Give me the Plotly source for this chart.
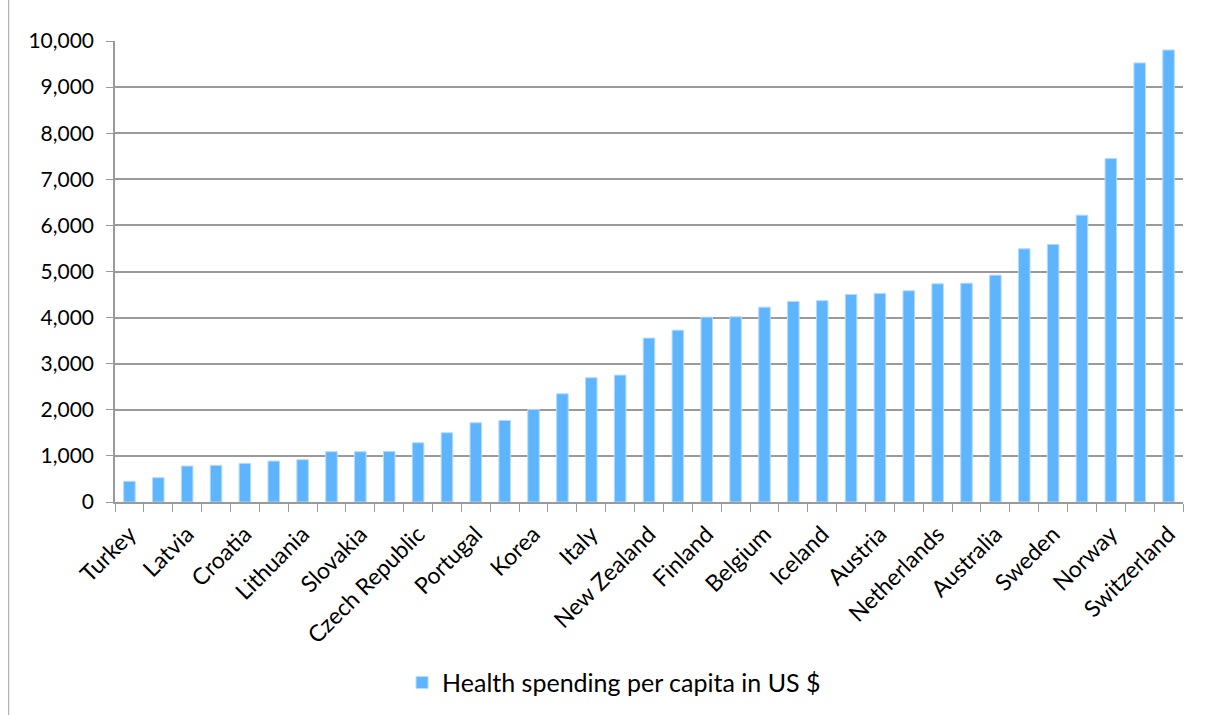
import plotly.graph_objects as go

countries = [
    "Turkey", "Mexico", "Latvia", "Poland", "Croatia", "Hungary", "Lithuania",
    "Estonia", "Slovakia", "Greece", "Czech Republic", "Slovenia", "Portugal",
    "Israel", "Korea", "Spain", "Italy", "Japan", "New Zealand", "United Kingdom",
    "Finland", "France", "Belgium", "Canada", "Iceland", "Germany", "Austria",
    "Ireland", "Netherlands", "Luxembourg", "Australia", "Denmark", "Sweden",
    "Germany ", "Norway", "United States", "Switzerland",
]
spending = [
    449, 527, 780, 795, 838, 888, 918,
    1091, 1091, 1098, 1285, 1502, 1719,
    1769, 2008, 2348, 2695, 2753, 3555, 3728,
    4010, 4017, 4227, 4349, 4368, 4502, 4524,
    4581, 4733, 4747, 4921, 5492, 5586,
    6222, 7450, 9524, 9805,
]
shown_labels = [c if i % 2 == 0 else "" for i, c in enumerate(countries)]
y_ticks = list(range(0, 10001, 1000))

FONT = "Lato"

fig = go.Figure()
fig.add_trace(go.Bar(
    x=countries, y=spending,
    name="Health spending per capita in US $",
    marker=dict(color="#5EB5FE", line=dict(color="#B3DBFF", width=1)),
))

fig.update_layout(
    width=1211, height=715,
    margin=dict(l=115, r=28, t=41, b=213),
    paper_bgcolor="white", plot_bgcolor="white",
    bargap=0.6,
    font=dict(family=FONT, size=19, color="#000000"),
    showlegend=True,
    legend=dict(
        orientation="h", xref="container", yref="container",
        x=0.332, y=0.045, xanchor="left", yanchor="middle",
        font=dict(family=FONT, size=25),
    ),
    shapes=[dict(type="line", xref="paper", yref="paper",
                 x0=-0.0995, x1=-0.0995, y0=-0.462, y1=1.089,
                 line=dict(color="#A0A0A0", width=1))],
)
fig.update_xaxes(
    type="category",
    tickmode="array", tickvals=countries, ticktext=shown_labels,
    tickangle=-45, tickson="boundaries",
    ticks="outside", ticklen=8, tickcolor="#9A9A9A", tickwidth=1,
    ticklabelstandoff=8,
    showline=True, linecolor="#9A9A9A", linewidth=1.5,
    showgrid=False,
    tickfont=dict(family=FONT, size=23),
)
fig.update_yaxes(
    range=[0, 10000], tickvals=y_ticks, tickformat=",",
    ticks="outside", ticklen=7, tickcolor="#9A9A9A",
    ticklabelstandoff=8,
    showline=True, linecolor="#9A9A9A", linewidth=1.5,
    showgrid=True, gridcolor="#9A9A9A", gridwidth=1.5,
    zeroline=False,
    tickfont=dict(family=FONT, size=21),
)

fig.write_html("out.html")
